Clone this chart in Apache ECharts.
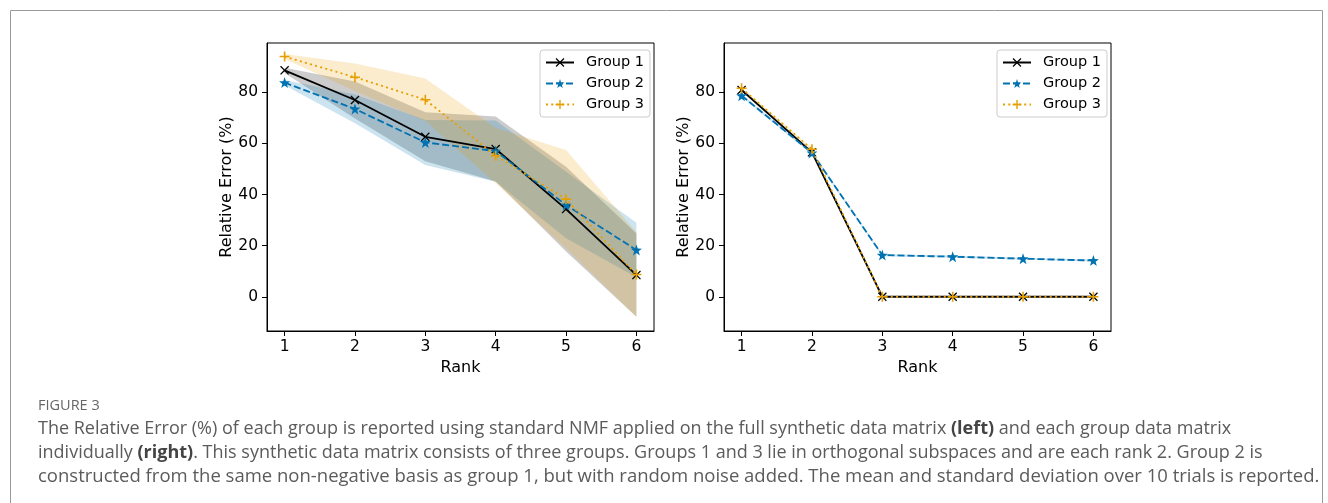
<!DOCTYPE html>
<html>
<head>
<meta charset="utf-8">
<script src="https://cdn.jsdelivr.net/npm/echarts@6/dist/echarts.min.js"></script>
<style>
  html, body { margin: 0; padding: 0; background: #fff; }
  #chart { width: 1328px; height: 503px; }
</style>
</head>
<body>
<div id="chart"></div>
<script>
// Ranks on the x axis
const ranks = [1, 2, 3, 4, 5, 6];
const yTicks = [0, 20, 40, 60, 80];
const groupNames = ['Group 1', 'Group 2', 'Group 3'];

// Full synthetic matrix: mean relative error (%) and standard deviation over 10 trials
const fullG1Mean = [88.6, 77.0, 62.6, 57.8, 34.3, 8.5];
const fullG1Std  = [1.0, 7.2, 9.6, 12.7, 16.6, 16.3];
const fullG2Mean = [83.8, 73.5, 60.4, 57.0, 35.9, 18.3];
const fullG2Std  = [1.0, 5.6, 8.8, 12.0, 13.0, 10.7];
const fullG3Mean = [94.0, 85.9, 77.1, 55.2, 38.2, 8.7];
const fullG3Std  = [1.0, 5.4, 8.3, 10.8, 19.2, 16.5];

// Each group matrix factorised individually
const indG1Mean = [80.9, 56.5, 0, 0, 0, 0];
const indG1Std  = [0.4, 0.4, 0, 0, 0, 0];
const indG2Mean = [78.7, 56.3, 16.3, 15.7, 14.9, 14.2];
const indG2Std  = [0.5, 0.6, 0.4, 0.4, 0.4, 0.4];
const indG3Mean = [81.6, 57.7, 0, 0, 0, 0];
const indG3Std  = [0.4, 0.4, 0, 0, 0, 0];

const FONT = 'DejaVu Sans';
const colors = ['#000000', '#0072B2', '#E69F00'];
const bandColors = ['rgba(0,0,0,0.2)', 'rgba(0,114,178,0.2)', 'rgba(230,159,0,0.2)'];
const symbols = [
  'path://M1,0L5,4L9,0L10,1L6,5L10,9L9,10L5,6L1,10L0,9L4,5L0,1Z',
  'path://M5,0L6.18,3.38L9.76,3.45L6.9,5.62L7.94,9.05L5,7L2.06,9.05L3.1,5.62L0.24,3.45L3.82,3.38Z',
  'path://M4.2,0H5.8V4.2H10V5.8H5.8V10H4.2V5.8H0V4.2H4.2Z'
];
const symbolSizes = [9, 11, 10];
const lineTypes = ['solid', [7, 3], [2, 3.3]];

const panels = [
  { means: [fullG1Mean, fullG2Mean, fullG3Mean], stds: [fullG1Std, fullG2Std, fullG3Std], left: 267 },
  { means: [indG1Mean, indG2Mean, indG3Mean], stds: [indG1Std, indG2Std, indG3Std], left: 724 }
];

const grids = [], xAxes = [], yAxes = [], series = [], legends = [];

panels.forEach((p, pi) => {
  grids.push({ left: p.left, top: 43, width: 387, height: 288, show: true,
    borderColor: '#000', borderWidth: 1, backgroundColor: 'transparent' });
  xAxes.push({
    type: 'value', gridIndex: pi, min: 0.75, max: 6.25,
    name: 'Rank', nameLocation: 'middle', nameGap: 25,
    nameTextStyle: { fontFamily: FONT, fontSize: 16, color: '#000' },
    axisLine: { show: true, onZero: false, lineStyle: { color: '#000', width: 1 } },
    axisTick: { show: true, length: 5, lineStyle: { color: '#000' }, customValues: ranks },
    axisLabel: { fontFamily: FONT, fontSize: 15.5, color: '#000', margin: 8, customValues: ranks },
    splitLine: { show: false }
  });
  yAxes.push({
    type: 'value', gridIndex: pi, min: -13.4, max: 99.3,
    name: 'Relative Error (%)', nameLocation: 'middle', nameGap: 32,
    nameTextStyle: { fontFamily: FONT, fontSize: 16, color: '#000' },
    axisLine: { show: true, onZero: false, lineStyle: { color: '#000', width: 1 } },
    axisTick: { show: true, length: 5, lineStyle: { color: '#000' }, customValues: yTicks },
    axisLabel: { fontFamily: FONT, fontSize: 15.5, color: '#000', margin: 9, customValues: yTicks },
    splitLine: { show: false }
  });

  // shaded mean ± std bands
  p.means.forEach((m, gi) => {
    const sd = p.stds[gi];
    const data = ranks.map((r, i) => [r, m[i] - sd[i], m[i] + sd[i]]);
    series.push({
      type: 'custom', name: 'band-' + pi + '-' + gi, xAxisIndex: pi, yAxisIndex: pi,
      silent: true, z: 1,
      encode: { x: 0, y: [1, 2] },
      data: data,
      renderItem: function (params, api) {
        if (params.dataIndex !== 0) return null;
        const upper = data.map(d => api.coord([d[0], d[2]]));
        const lower = data.map(d => api.coord([d[0], d[1]])).reverse();
        return {
          type: 'polygon',
          shape: { points: upper.concat(lower) },
          style: { fill: bandColors[gi], stroke: null }
        };
      }
    });
  });

  // mean lines
  p.means.forEach((m, gi) => {
    series.push({
      type: 'line', name: groupNames[gi], xAxisIndex: pi, yAxisIndex: pi,
      z: 2 + gi,
      data: ranks.map((r, i) => [r, m[i]]),
      symbol: symbols[gi], symbolSize: symbolSizes[gi], showAllSymbol: true,
      lineStyle: { color: colors[gi], width: 1.8, type: lineTypes[gi] },
      itemStyle: { color: colors[gi], borderWidth: 0 },
      emphasis: { disabled: true },
      animation: false
    });
  });

  legends.push({
    data: groupNames, orient: 'vertical',
    left: p.left + 273, top: 50,
    padding: [5, 6, 5, 5], itemGap: 6, itemWidth: 28, itemHeight: 11,
    backgroundColor: 'rgba(255,255,255,0.8)',
    borderColor: '#cccccc', borderWidth: 1, borderRadius: 3,
    textStyle: { fontFamily: FONT, fontSize: 14.5, color: '#000', padding: [0, 0, 0, 7] },
    selectedMode: false
  });
});

const captionColor = '#5b5b5b';
const capFont = '18px "Open Sans"';
const rich = { n: { font: capFont, fill: captionColor }, b: { font: 'bold ' + capFont, fill: '#444' } };
const graphic = [
  { type: 'rect', left: 8, top: 8, shape: { width: 1312, height: 500 },
    style: { fill: 'none', stroke: '#9a9a9a', lineWidth: 1 }, silent: true },
  { type: 'text', left: 38, top: 398,
    style: { text: 'FIGURE 3', font: '14.5px "Open Sans"', fill: '#666' } },
  { type: 'text', left: 38, top: 420,
    style: { text: '{n|The Relative Error (%) of each group is reported using standard NMF applied on the full synthetic data matrix }{b|(left)}{n| and each group data matrix}', rich: rich } },
  { type: 'text', left: 38, top: 444,
    style: { text: '{n|individually }{b|(right)}{n|. This synthetic data matrix consists of three groups. Groups 1 and 3 lie in orthogonal subspaces and are each rank 2. Group 2 is}', rich: rich } },
  { type: 'text', left: 38, top: 467,
    style: { text: 'constructed from the same non-negative basis as group 1, but with random noise added. The mean and standard deviation over 10 trials is reported.',
      font: '18.5px "Open Sans"', fill: captionColor } }
];

const chart = echarts.init(document.getElementById('chart'), null, { renderer: 'canvas' });
chart.setOption({
  animation: false,
  backgroundColor: '#fff',
  grid: grids, xAxis: xAxes, yAxis: yAxes,
  legend: legends, series: series, graphic: graphic
});
</script>
</body>
</html>
